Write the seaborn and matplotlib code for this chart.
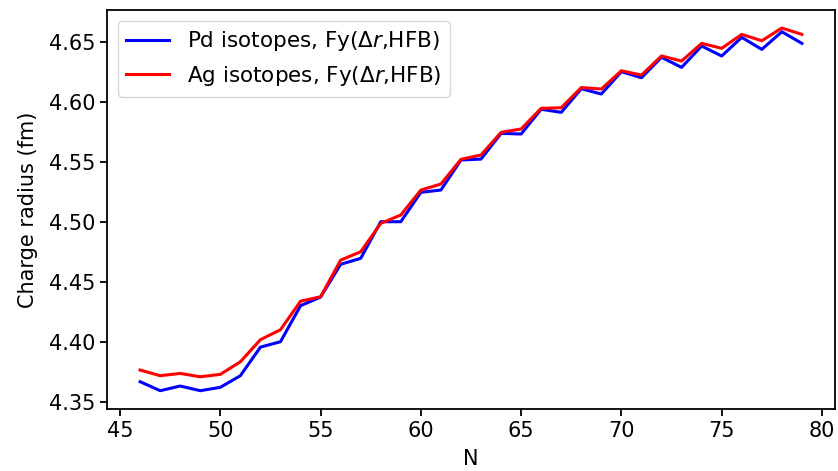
import matplotlib
matplotlib.use("Agg")
import matplotlib.pyplot as plt
import seaborn as sns
import pandas as pd

# Neutron numbers
N = list(range(46, 80))

# Charge radii (fm)
pd_radius = [4.3667, 4.3592, 4.3631, 4.3592, 4.3620, 4.3717, 4.3955, 4.4000,
             4.4300, 4.4372, 4.4645, 4.4695, 4.5000, 4.5000, 4.5245, 4.5264,
             4.5514, 4.5522, 4.5736, 4.5731, 4.5937, 4.5911, 4.6108, 4.6064,
             4.6250, 4.6200, 4.6370, 4.6286, 4.6464, 4.6381, 4.6536, 4.6436,
             4.6583, 4.6486]
ag_radius = [4.3764, 4.3717, 4.3736, 4.3708, 4.3728, 4.3833, 4.4017, 4.4100,
             4.4338, 4.4375, 4.4680, 4.4750, 4.4986, 4.5056, 4.5264, 4.5314,
             4.5520, 4.5556, 4.5745, 4.5773, 4.5945, 4.5950, 4.6118, 4.6106,
             4.6258, 4.6222, 4.6381, 4.6339, 4.6486, 4.6445, 4.6561, 4.6508,
             4.6614, 4.6561]

labels = [r"Pd isotopes, Fy($\Delta r$,HFB)", r"Ag isotopes, Fy($\Delta r$,HFB)"]
colors = ["#0000ff", "#ff0000"]

df_pd = pd.DataFrame({"N": N, "radius": pd_radius})
df_ag = pd.DataFrame({"N": N, "radius": ag_radius})

plt.rcParams["font.family"] = ["DejaVu Sans"]
plt.rcParams["font.size"] = 15

fig = plt.figure(figsize=(8.38, 4.71), dpi=100)
ax = fig.add_axes([0.1277, 0.132, 0.8687, 0.847])

sns.lineplot(data=df_pd, x="N", y="radius", ax=ax, color=colors[0],
             linewidth=2.2, label=labels[0], sort=False, estimator=None)
sns.lineplot(data=df_ag, x="N", y="radius", ax=ax, color=colors[1],
             linewidth=2.2, label=labels[1], sort=False, estimator=None)

ax.set_xlabel("N", fontsize=15, labelpad=6)
ax.set_ylabel("Charge radius (fm)", fontsize=15, labelpad=8)
ax.set_xticks([45, 50, 55, 60, 65, 70, 75, 80])
ax.set_yticks([4.35, 4.40, 4.45, 4.50, 4.55, 4.60, 4.65])
ax.set_yticklabels(["4.35", "4.40", "4.45", "4.50", "4.55", "4.60", "4.65"])
ax.tick_params(labelsize=15, direction="out", length=5, width=1.3)
for s in ax.spines.values():
    s.set_linewidth(1.3)
    s.set_color("black")

ax.legend(loc="upper left", fontsize=15.5, frameon=True)

fig.savefig("out.png", dpi=100)
